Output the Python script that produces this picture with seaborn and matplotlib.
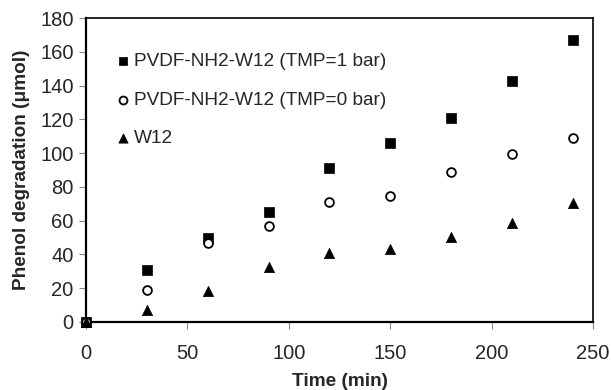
import pandas as pd
import numpy as np
import matplotlib
matplotlib.use('Agg')
import matplotlib.pyplot as plt
import seaborn as sns

time_min = [0, 30, 60, 90, 120, 150, 180, 210, 240]
tmp1 = [0, 31, 49.5, 65, 91, 106, 120.5, 142.7, 166.8]
tmp0 = [0, 18.9, 47, 57, 71.2, 74.6, 88.6, 99.7, 108.8]
w12 = [0, 7.1, 18.5, 32.4, 41, 43, 50.5, 58.8, 70.3]

labels = ['PVDF-NH2-W12 (TMP=1 bar)', 'PVDF-NH2-W12 (TMP=0 bar)', 'W12']

sns.set_style('white')
plt.rcParams['font.family'] = ['Liberation Sans', 'DejaVu Sans']

fig = plt.figure(figsize=(6.11, 3.9), dpi=100)
ax = fig.add_axes([0.1408, 0.1744, 0.8297, 0.7794])

sns.scatterplot(x=time_min, y=tmp1, marker='s', s=45, color='black',
                edgecolor='black', linewidth=0.5, label=labels[0], ax=ax,
                zorder=3, clip_on=False)
sns.scatterplot(x=time_min, y=tmp0, marker='o', s=40, facecolor='white',
                edgecolor='black', linewidth=1.3, label=labels[1], ax=ax,
                zorder=3, clip_on=False)
sns.scatterplot(x=time_min, y=w12, marker='^', s=55, color='black',
                edgecolor='black', linewidth=0.5, label=labels[2], ax=ax,
                zorder=3, clip_on=False)

ax.set_xlim(0, 250)
ax.set_ylim(0, 180)
ax.set_xticks(np.arange(0, 251, 50))
ax.set_yticks(np.arange(0, 181, 20))
ax.tick_params(axis='both', labelsize=14.5, length=5, width=0.8, color='#888888',
               direction='out', left=True, bottom=True)
ax.tick_params(axis='x', pad=11)
ax.tick_params(axis='y', pad=4)

for side in ['left', 'bottom']:
    ax.spines[side].set_linewidth(1.6)
    ax.spines[side].set_color('black')
for side in ['top', 'right']:
    ax.spines[side].set_linewidth(1.2)
    ax.spines[side].set_color('black')

ax.set_xlabel('Time (min)', fontsize=13.7, fontweight='bold', labelpad=7)
ax.set_ylabel('Phenol degradation (μmol)', fontsize=13.7, fontweight='bold', labelpad=7)

ax.legend(loc='upper left', frameon=False, fontsize=13.7, handletextpad=0.25,
          handlelength=0.7, labelspacing=1.12, borderaxespad=0.3, markerscale=0.9,
          bbox_to_anchor=(0.033, 0.93))

fig.savefig('out.png', dpi=100)
